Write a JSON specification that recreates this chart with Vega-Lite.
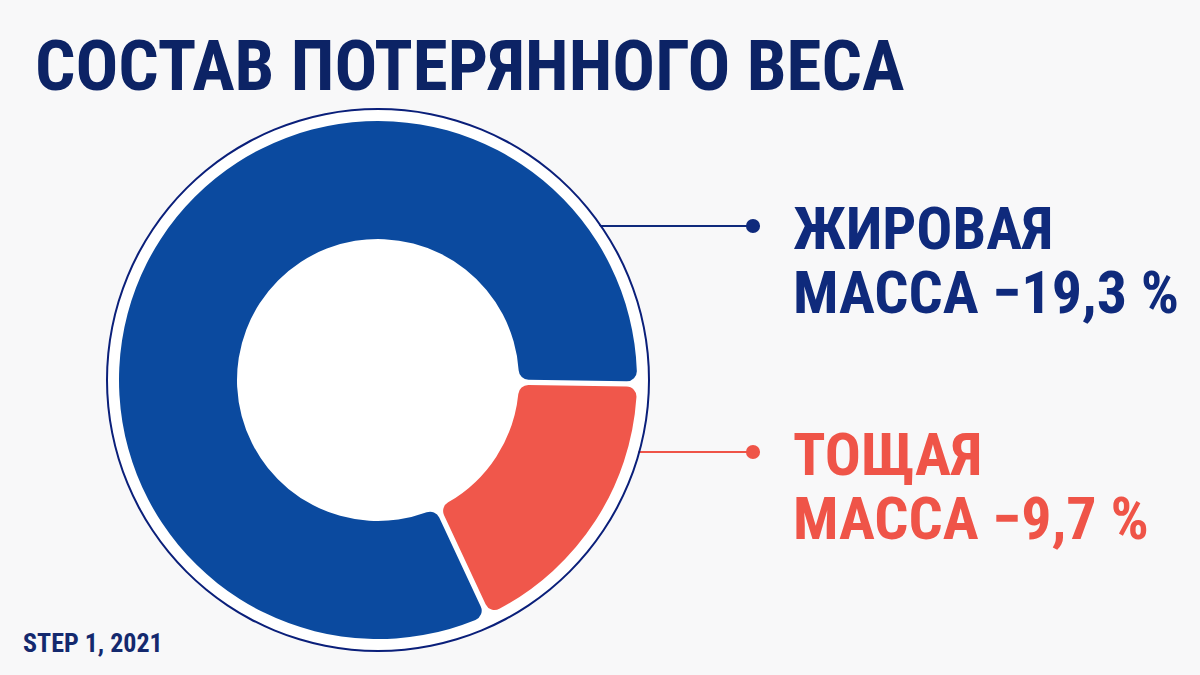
{
  "$schema": "https://vega.github.io/schema/vega-lite/v6.json",
  "description": "Состав потерянного веса: жировая и тощая масса (STEP 1, 2021)",
  "width": 1200,
  "height": 675,
  "autosize": "none",
  "padding": 0,
  "background": "#f8f8f9",
  "datasets": {
    "segments": [
      {"сегмент": "Жировая масса", "изменение": -19.3, "доля": 82.2, "строка1": "ЖИРОВАЯ", "строка2": "МАССА −19,3 %"},
      {"сегмент": "Тощая масса", "изменение": -9.7, "доля": 17.8, "строка1": "ТОЩАЯ", "строка2": "МАССА −9,7 %"}
    ],
    "texts": [
      {"роль": "заголовок", "текст": "СОСТАВ ПОТЕРЯННОГО ВЕСА"},
      {"роль": "источник", "текст": "STEP 1, 2021"}
    ]
  },
  "data": {"name": "segments"},
  "layer": [
    {
      "mark": {"type": "rule", "x": 378, "x2": 753, "strokeWidth": 2},
      "encoding": {
        "y": {"field": "сегмент", "type": "nominal", "scale": {"type": "point", "range": [226, 452], "padding": 0}, "axis": null},
        "stroke": {"field": "сегмент", "type": "nominal", "scale": {"domain": ["Жировая масса", "Тощая масса"], "range": ["#0f2a7c", "#ef5448"]}, "legend": null}
      }
    },
    {
      "data": {"values": [{"круг": "фон"}]},
      "mark": {"type": "arc", "x": 378, "y": 380, "theta": 0, "theta2": 6.2832, "outerRadius": 270, "fill": "#ffffff"},
      "encoding": {}
    },
    {
      "data": {"values": [{"круг": "обводка"}]},
      "mark": {"type": "arc", "x": 378, "y": 380, "theta": 0, "theta2": 6.2832, "innerRadius": 270, "outerRadius": 272, "fill": "#0a1f7a"},
      "encoding": {}
    },
    {
      "mark": {"type": "arc", "x": 378, "y": 380, "innerRadius": 141, "outerRadius": 259, "cornerRadius": 10, "padAngle": 0.018},
      "encoding": {
        "theta": {"field": "доля", "type": "quantitative", "stack": true, "scale": {"range": [2.705, 8.988]}},
        "color": {"field": "сегмент", "type": "nominal", "scale": {"domain": ["Жировая масса", "Тощая масса"], "range": ["#0b4a9f", "#f0574b"]}, "legend": null},
        "tooltip": [
          {"field": "сегмент", "type": "nominal"},
          {"field": "изменение", "type": "quantitative", "format": ".1f"}
        ]
      }
    },
    {
      "mark": {"type": "circle", "x": 753, "size": 200, "opacity": 1},
      "encoding": {
        "y": {"field": "сегмент", "type": "nominal"},
        "fill": {"field": "сегмент", "type": "nominal", "scale": {"domain": ["Жировая масса", "Тощая масса"], "range": ["#0f2a7c", "#ef5448"]}, "legend": null}
      }
    },
    {
      "mark": {"type": "text", "x": 793, "dy": 23, "align": "left", "baseline": "alphabetic", "font": "Roboto Condensed, Roboto", "fontWeight": "bold", "fontSize": 60},
      "encoding": {
        "y": {"field": "сегмент", "type": "nominal"},
        "text": {"field": "строка1"},
        "fill": {"field": "сегмент", "type": "nominal"}
      }
    },
    {
      "mark": {"type": "text", "x": 793, "dy": 87, "align": "left", "baseline": "alphabetic", "font": "Roboto Condensed, Roboto", "fontWeight": "bold", "fontSize": 60},
      "encoding": {
        "y": {"field": "сегмент", "type": "nominal"},
        "text": {"field": "строка2"},
        "fill": {"field": "сегмент", "type": "nominal"}
      }
    },
    {
      "data": {"name": "texts"},
      "transform": [{"filter": "datum['роль'] === 'заголовок'"}],
      "mark": {"type": "text", "x": 35, "y": 90, "align": "left", "baseline": "alphabetic", "font": "Roboto Condensed, Roboto", "fontWeight": "bold", "fontSize": 71, "color": "#0c2365"},
      "encoding": {"text": {"field": "текст"}}
    },
    {
      "data": {"name": "texts"},
      "transform": [{"filter": "datum['роль'] === 'источник'"}],
      "mark": {"type": "text", "x": 23, "y": 652, "align": "left", "baseline": "alphabetic", "font": "Roboto Condensed, Roboto", "fontWeight": "bold", "fontSize": 26, "color": "#14296e"},
      "encoding": {"text": {"field": "текст"}}
    }
  ],
  "config": {
    "view": {"stroke": null}
  }
}
